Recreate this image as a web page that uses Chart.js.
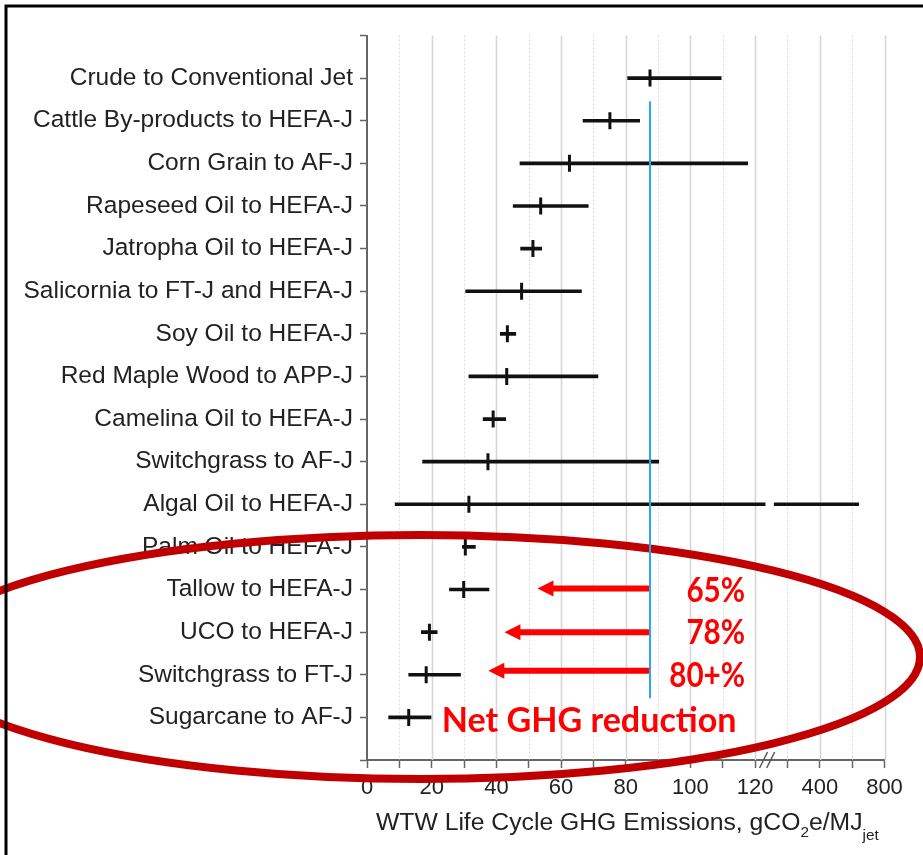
<!DOCTYPE html>
<html><head><meta charset="utf-8">
<script src="https://cdn.jsdelivr.net/npm/chart.js@4.4.1/dist/chart.umd.min.js"></script>
<style>html,body{margin:0;padding:0;background:#fff;overflow:hidden}#wrap{width:923px;height:855px}</style>
</head><body><div id="wrap"><canvas id="c" width="923" height="855"></canvas></div>
<script>
// ---------- data (top row first) ----------
const categories = [
  "Crude to Conventional Jet","Cattle By-products to HEFA-J","Corn Grain to AF-J",
  "Rapeseed Oil to HEFA-J","Jatropha Oil to HEFA-J","Salicornia to FT-J and HEFA-J",
  "Soy Oil to HEFA-J","Red Maple Wood to APP-J","Camelina Oil to HEFA-J",
  "Switchgrass to AF-J","Algal Oil to HEFA-J","Palm Oil to HEFA-J","Tallow to HEFA-J",
  "UCO to HEFA-J","Switchgrass to FT-J","Sugarcane to AF-J"];
const centers = [87.5, 75.1, 62.6, 53.7, 51.3, 47.8, 43.4, 43.2, 39.0, 37.4, 31.5, 30.4, 29.9, 19.3, 18.3, 12.9];
const lows    = [80.6, 66.8, 47.3, 45.2, 47.5, 30.5, 41.2, 31.5, 35.9, 17.2,  8.7, 29.5, 25.5, 16.8, 12.9,  6.7];
const highs   = [109.5,84.3,117.7, 68.4, 54.0, 66.3, 46.0, 71.4, 42.9, 90.2, 640, 33.5, 37.7, 21.7, 28.9, 19.8];
const xTickPositions = [0, 20, 40, 60, 80, 100, 120, 140, 160];
const xTickLabels    = ["0","20","40","60","80","100","120","400","800"];
const arrowCategories = ["Tallow to HEFA-J","UCO to HEFA-J","Switchgrass to FT-J"];
const arrowTips   = [52.7, 42.5, 37.5];
const arrowLabels = ["65%","78%","80+%"];
const noteText = "Net GHG reduction";
const axisTitleParts = [["WTW Life Cycle GHG Emissions, gCO",false],["2",true],["e/MJ",false],["jet",true]];

// ---------- broken-axis mapping ----------
const BREAK_VALUE = 123;      // end of the first (linear) segment
const BREAK_LO = 123.1, BREAK_HI = 125.9; // gap in display units
const SECOND_ORIGIN = 120, SECOND_FACTOR = 20; // second segment: display = 120 + v/20
function toDisplay(v){ return v <= BREAK_VALUE ? v : SECOND_ORIGIN + v / SECOND_FACTOR; }
const N = categories.length;
function rowOf(i){ return N - i; }

// bars (error ranges), split at axis break
const rangeData = [];
categories.forEach((c,i)=>{
  const lo = toDisplay(lows[i]), hi = toDisplay(highs[i]);
  if (highs[i] <= BREAK_VALUE) rangeData.push({y: rowOf(i), x: [lo, hi]});
  else { rangeData.push({y: rowOf(i), x: [lo, BREAK_LO]}); rangeData.push({y: rowOf(i), x: [BREAK_HI, hi]}); }
});
const centerData = centers.map((v,i)=>({x: toDisplay(v), y: rowOf(i)}));

const LABEL_FONT = "'Liberation Sans', Arial, sans-serif";
const NOTE_FONT = "Lato, 'Open Sans', sans-serif";

const gridPlugin = {
  id:'grid',
  beforeDatasetsDraw(chart){
    const {ctx, chartArea:a, scales:{x}} = chart;
    ctx.save();
    for (let v = 10; v <= 160; v += 10){
      const px = Math.round(x.getPixelForValue(v)) + 0.5;
      ctx.beginPath();
      if (v % 20 === 0){ ctx.strokeStyle = '#d6d6d6'; ctx.lineWidth = 1.6; ctx.setLineDash([]); }
      else { ctx.strokeStyle = '#dedede'; ctx.lineWidth = 1.2; ctx.setLineDash([2,2]); }
      ctx.moveTo(px, a.top); ctx.lineTo(px, a.bottom); ctx.stroke();
    }
    ctx.restore();
  }
};

const overlayPlugin = {
  id:'overlay',
  afterDraw(chart){
    const {ctx, chartArea:a, scales:{x, y}} = chart;
    ctx.save();
    // axis break marks
    ctx.strokeStyle = '#555'; ctx.lineWidth = 1.5;
    [122.6, 124.8].forEach(v=>{
      const px = x.getPixelForValue(v);
      ctx.beginPath(); ctx.moveTo(px-4, a.bottom+8); ctx.lineTo(px+4, a.bottom-8); ctx.stroke();
    });
    // axis title with subscripts
    const target = 503, startX = 376, base = 830;
    let w100 = 0;
    axisTitleParts.forEach(([t,sub])=>{ ctx.font = (sub?62:100)+"px "+LABEL_FONT; w100 += ctx.measureText(t).width; });
    const fs = 100*target/w100;
    let cx = startX;
    ctx.fillStyle = '#222'; ctx.textBaseline = 'alphabetic'; ctx.textAlign='left';
    axisTitleParts.forEach(([t,sub],k)=>{
      ctx.font = (sub? fs*0.62 : fs)+"px "+LABEL_FONT;
      ctx.fillText(t, cx, base + (sub ? (k===3?10:7) : 0));
      cx += ctx.measureText(t).width;
    });
    // ellipse
    ctx.beginPath();
    ctx.ellipse(420, 657, 500, 122, 0, 0, Math.PI*2);
    ctx.strokeStyle = '#c00000'; ctx.lineWidth = 8; ctx.stroke();
    // baseline (blue line at conventional jet value)
    const bx = x.getPixelForValue(toDisplay(centers[0]));
    ctx.beginPath(); ctx.strokeStyle = '#2aa6ee'; ctx.lineWidth = 2;
    ctx.moveTo(bx, y.getPixelForValue(15.46)); ctx.lineTo(bx, y.getPixelForValue(1.45)); ctx.stroke();
    // arrows
    ctx.fillStyle = '#ff0000'; ctx.strokeStyle = '#ff0000';
    ctx.font = "bold 100px " + NOTE_FONT;
    const nfs = 100*295/ctx.measureText(noteText).width;
    const pctX = x.getPixelForValue(116.9);
    arrowCategories.forEach((c,k)=>{
      const i = categories.indexOf(c);
      const py = y.getPixelForValue(rowOf(i)) - (k===2?4:0) - (k===0?1:0);
      const tip = x.getPixelForValue(arrowTips[k]);
      const headL = 16, headH = 8;
      ctx.lineWidth = 6; ctx.beginPath(); ctx.moveTo(bx-1, py); ctx.lineTo(tip+headL-1, py); ctx.stroke();
      ctx.beginPath(); ctx.moveTo(tip, py); ctx.lineTo(tip+headL, py-headH); ctx.lineTo(tip+headL, py+headH); ctx.closePath(); ctx.fill();
      ctx.save();
      ctx.font = "bold "+nfs+"px "+NOTE_FONT; ctx.textAlign='right'; ctx.textBaseline='middle';
      ctx.translate(pctX, y.getPixelForValue(rowOf(i)) + 1);
      ctx.scale(0.87, 1);
      ctx.fillText(arrowLabels[k], 0, 0);
      ctx.restore();
    });
    ctx.font = "bold "+nfs+"px "+NOTE_FONT; ctx.textAlign='left'; ctx.textBaseline='middle';
    ctx.fillText(noteText, x.getPixelForValue(23.1), y.getPixelForValue(1) + 4);
    // outer frame
    ctx.strokeStyle = '#000'; ctx.lineWidth = 3;
    ctx.beginPath(); ctx.moveTo(6, 900); ctx.lineTo(6, 6); ctx.lineTo(930, 6); ctx.stroke();
    ctx.restore();
  }
};

const bgPlugin = { id:'bg', beforeDraw(chart){ const c=chart.ctx; c.save(); c.fillStyle='#fff'; c.fillRect(0,0,chart.width,chart.height); c.restore(); } };

new Chart(document.getElementById('c'), {
  type: 'scatter',
  data: { datasets: [
    { type:'bar', indexAxis:'y', data: rangeData, backgroundColor:'#111', borderWidth:0, barThickness:3, grouped:false, order:2 },
    { type:'scatter', data: centerData, pointStyle:'line', rotation:90, radius:8.5, borderWidth:3, borderColor:'#111', backgroundColor:'#111', order:1 }
  ]},
  options: {
    responsive:false, animation:false, devicePixelRatio:1,
    layout:{ padding:{ left:0, right:38.5, top:35.5, bottom:0 } },
    plugins:{ legend:{display:false}, tooltip:{enabled:false} },
    scales:{
      x:{ type:'linear', min:0, max:160, offset:false, afterFit(s){ s.height = 95; },
          afterBuildTicks(s){ const t=[]; for(let v=0; v<=160; v+=10) t.push({value:v}); s.ticks=t; },
          ticks:{ autoSkip:false, maxRotation:0, padding:7, color:'#222', font:{family:LABEL_FONT, size:22},
                  callback(v){ const k = xTickPositions.indexOf(v); return k>=0 ? xTickLabels[k] : ''; } },
          grid:{ offset:false, drawOnChartArea:false, drawTicks:true, tickLength:8, tickColor:'#666', tickWidth:1.5 },
          border:{ display:true, color:'#666', width:2 } },
      y:{ type:'linear', min:0, max:17, offset:false, afterFit(s){ s.width = 367; },
          afterBuildTicks(s){ const t=[]; for(let v=0; v<=17; v++) t.push({value:v}); s.ticks=t; },
          ticks:{ autoSkip:false, padding:7, color:'#222', font:{family:LABEL_FONT, size:24.5},
                  callback(v){ return (v>=1 && v<=N) ? categories[N - v] : ''; } },
          grid:{ offset:false, drawOnChartArea:false, drawTicks:true, tickLength:7, tickColor:'#666', tickWidth:1.5 },
          border:{ display:true, color:'#666', width:2 } }
    }
  },
  plugins:[bgPlugin, gridPlugin, overlayPlugin]
});
</script></body></html>
